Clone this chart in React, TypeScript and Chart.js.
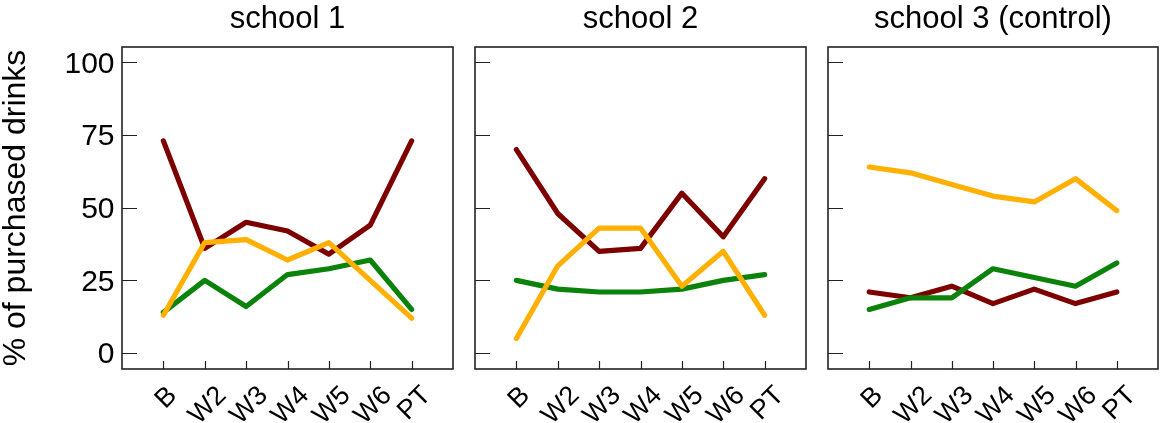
import React, { useEffect, useRef } from "react";
import { Chart, registerables } from "chart.js";

Chart.register(...registerables);

// ---------- data ----------
const categories = ["B", "W2", "W3", "W4", "W5", "W6", "PT"];
const yTickValues = [0, 25, 50, 75, 100];
const panelTitles = ["school 1", "school 2", "school 3 (control)"];
const yAxisTitle = "% of purchased drinks";

const school1Red = [73, 36, 45, 42, 34, 44, 73];
const school1Orange = [13, 38, 39, 32, 38, 25, 12];
const school1Green = [14, 25, 16, 27, 29, 32, 15];

const school2Red = [70, 48, 35, 36, 55, 40, 60];
const school2Orange = [5, 30, 43, 43, 23, 35, 13];
const school2Green = [25, 22, 21, 21, 22, 25, 27];

const school3Red = [21, 19, 23, 17, 22, 17, 21];
const school3Orange = [64, 62, 58, 54, 52, 60, 49];
const school3Green = [15, 19, 19, 29, 26, 23, 31];

// ---------- style ----------
const FONT = "'Liberation Sans', Arial, Helvetica, sans-serif";
const RED = "#7d0000";
const ORANGE = "#ffb000";
const GREEN = "#0b830b";
const FRAME = "#222222";

type Panel = {
  title: string;
  red: number[];
  orange: number[];
  green: number[];
  canvasLeft: number;
  canvasWidth: number;
  yWidth: number;
  padRight: number;
  showY: boolean;
};

const panels: Panel[] = [
  { title: panelTitles[0], red: school1Red, orange: school1Orange, green: school1Green, canvasLeft: 0, canvasWidth: 462, yWidth: 122, padRight: 9, showY: true },
  { title: panelTitles[1], red: school2Red, orange: school2Orange, green: school2Green, canvasLeft: 462, canvasWidth: 355, yWidth: 13, padRight: 11, showY: false },
  { title: panelTitles[2], red: school3Red, orange: school3Orange, green: school3Green, canvasLeft: 817, canvasWidth: 344, yWidth: 11, padRight: 3, showY: false },
];

const HEIGHT = 423;
const X_AXIS_HEIGHT = 54;

const decorPlugin = {
  id: "panelDecor",
  afterDraw(chart: any) {
    const { ctx, chartArea: a, scales } = chart;
    const xs = scales.x;
    const ys = scales.y;
    ctx.save();
    // frame
    ctx.strokeStyle = FRAME;
    ctx.lineWidth = 1.6;
    ctx.strokeRect(a.left, a.top, a.right - a.left, a.bottom - a.top);
    // inward ticks
    ctx.lineWidth = 1.2;
    ctx.beginPath();
    yTickValues.forEach((v) => {
      const py = Math.round(ys.getPixelForValue(v)) + 0.5;
      ctx.moveTo(a.left, py);
      ctx.lineTo(a.left + 15, py);
    });
    categories.forEach((_, i) => {
      const px = Math.round(xs.getPixelForValue(i)) + 0.5;
      ctx.moveTo(px, a.bottom);
      ctx.lineTo(px, a.bottom - 8);
    });
    ctx.stroke();
    // rotated x labels
    const fs = 27;
    ctx.font = `${fs}px ${FONT}`;
    ctx.fillStyle = "#000";
    const capH = 0.716 * fs;
    categories.forEach((lab, i) => {
      const w = ctx.measureText(lab).width;
      const half = ((w + capH) * Math.SQRT1_2) / 2;
      const cx = xs.getPixelForValue(i) + 1.5;
      const cy = a.bottom + 14 + half;
      ctx.save();
      ctx.translate(cx, cy);
      ctx.rotate(-Math.PI / 4);
      ctx.textAlign = "center";
      ctx.textBaseline = "alphabetic";
      ctx.fillText(lab, 0, capH / 2);
      ctx.restore();
    });
    ctx.restore();
  },
};

function toPoints(values: number[]) {
  return values.map((v, i) => ({ x: i, y: v }));
}

function PanelChart({ p }: { p: Panel }) {
  const ref = useRef<HTMLCanvasElement | null>(null);
  useEffect(() => {
    if (!ref.current) return;
    const line = (label: string, values: number[], color: string) => ({
      label,
      data: toPoints(values),
      borderColor: color,
      backgroundColor: color,
      borderWidth: 5.2,
      pointRadius: 0,
      borderCapStyle: "round" as const,
      borderJoinStyle: "round" as const,
      tension: 0,
      fill: false,
    });
    const chart = new Chart(ref.current, {
      type: "line",
      data: {
        datasets: [
          line("orange", p.orange, ORANGE),
          line("green", p.green, GREEN),
          line("red", p.red, RED),
        ],
      },
      options: {
        animation: false,
        responsive: false,
        events: [],
        layout: { padding: { left: 0, right: p.padRight, top: 0, bottom: 0 } },
        plugins: {
          legend: { display: false },
          tooltip: { enabled: false },
          title: {
            display: true,
            text: p.title,
            fullSize: false,
            color: "#000",
            font: { family: FONT, size: 31, weight: "normal", lineHeight: 1.2 },
            padding: { top: 1, bottom: 8.8 },
          },
        },
        scales: {
          x: {
            type: "linear",
            min: -1,
            max: 7,
            grid: { display: false, drawTicks: false },
            border: { display: false },
            ticks: { display: false },
            afterFit: (s: any) => {
              s.height = X_AXIS_HEIGHT;
            },
          },
          y: {
            type: "linear",
            min: -5.5,
            max: 105.3,
            grid: { display: false, drawTicks: false },
            border: { display: false },
            afterBuildTicks: (s: any) => {
              s.ticks = yTickValues.map((v) => ({ value: v }));
            },
            ticks: {
              display: p.showY,
              color: "#000",
              padding: 7.5,
              labelOffset: 2,
              font: { family: FONT, size: 30 },
              callback: (v: any) => String(v),
            },
            title: {
              display: p.showY,
              text: yAxisTitle,
              color: "#000",
              font: { family: FONT, size: 32, lineHeight: 1 },
              padding: 0,
            },
            afterFit: (s: any) => {
              s.width = p.yWidth;
            },
          },
        },
      },
      plugins: [decorPlugin],
    });
    return () => chart.destroy();
  }, [p]);
  return (
    <canvas
      ref={ref}
      width={p.canvasWidth}
      height={HEIGHT}
      style={{ position: "absolute", left: p.canvasLeft, top: 0, width: p.canvasWidth, height: HEIGHT }}
    />
  );
}

export default function App() {
  return (
    <div style={{ position: "absolute", left: 0, top: 0, width: 1161, height: HEIGHT, background: "#fff" }}>
      {panels.map((p, i) => (
        <PanelChart key={i} p={p} />
      ))}
    </div>
  );
}
